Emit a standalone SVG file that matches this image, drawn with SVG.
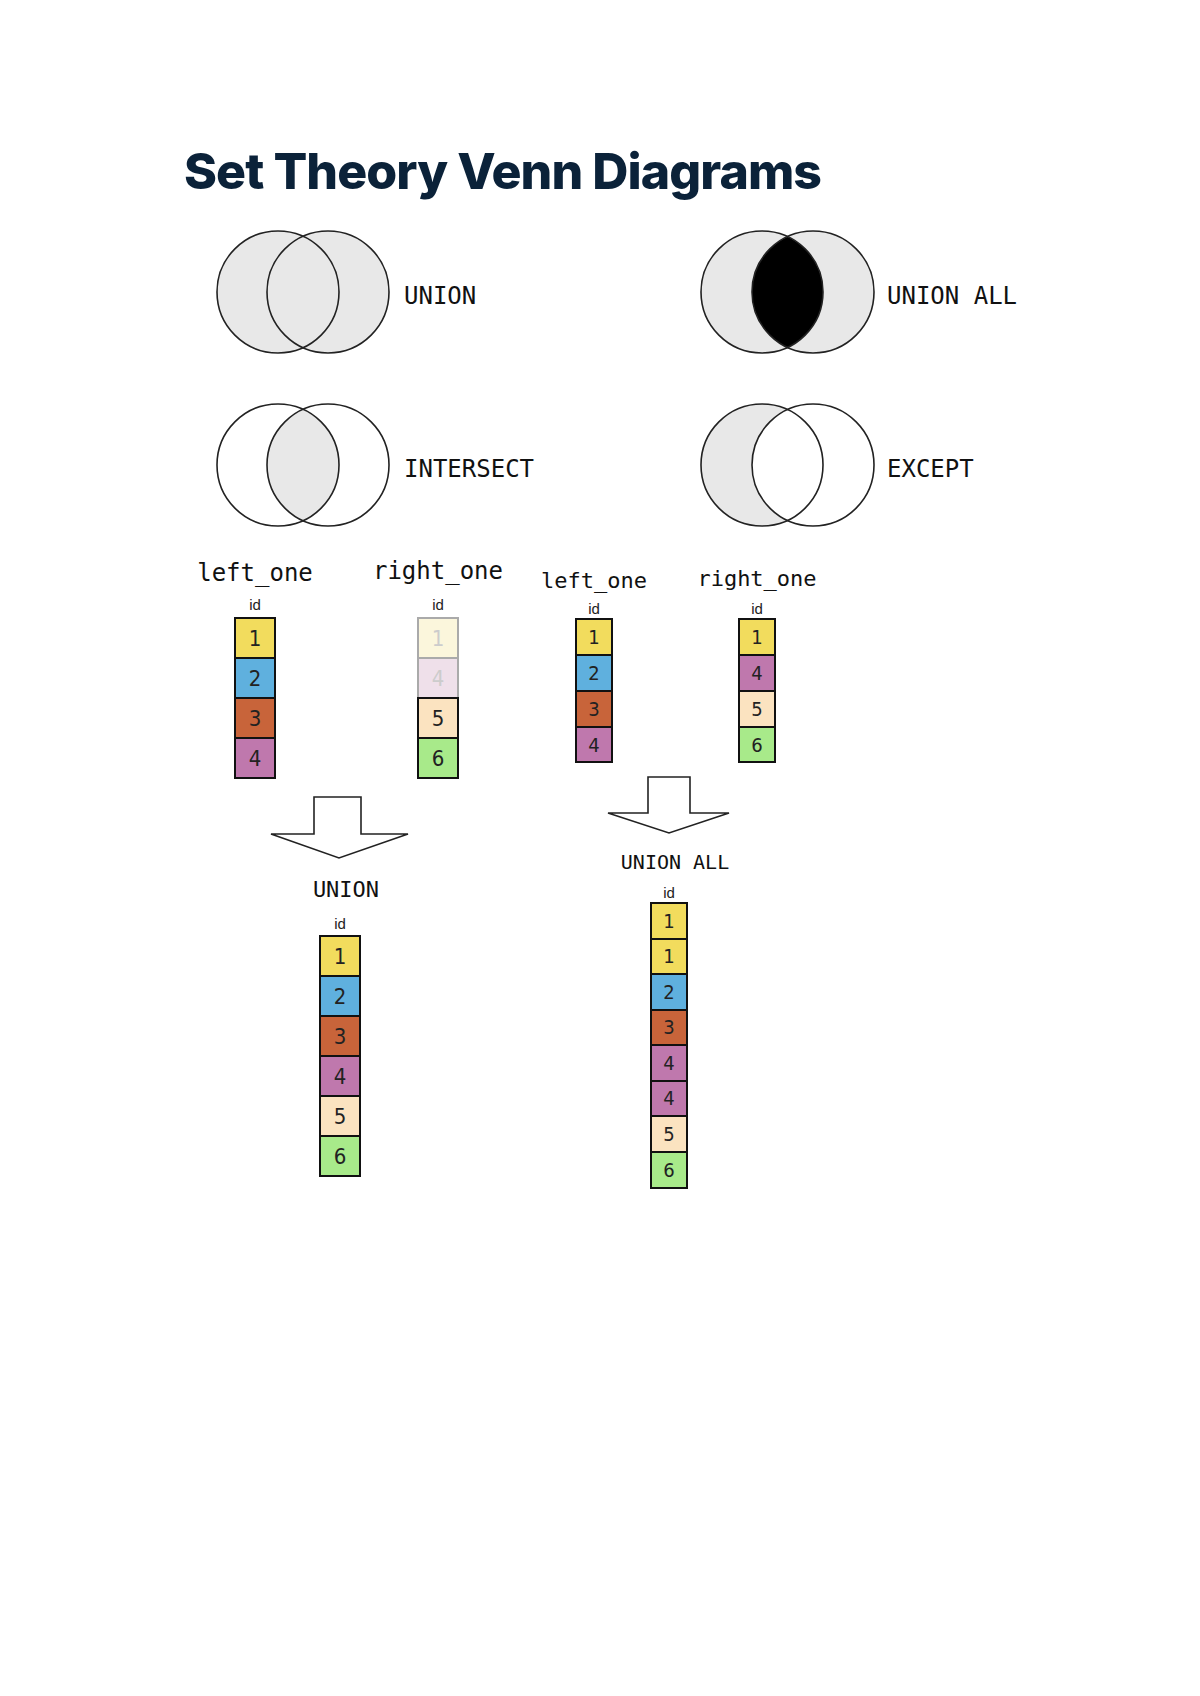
<svg xmlns="http://www.w3.org/2000/svg" width="1200" height="1696" viewBox="0 0 1200 1696">
<style>
.t{font-family:"DejaVu Sans Mono","Liberation Mono",monospace;fill:#111}
.id{font-family:"Liberation Sans",Arial,sans-serif;font-size:15px;fill:#222;text-anchor:middle}
.n{font-family:"DejaVu Sans Condensed","Liberation Sans",sans-serif;fill:#222;text-anchor:middle}
.c{stroke:#111;stroke-width:2}
.v{stroke:#222;stroke-width:1.6;fill:none}
.y{fill:#f2dc5d}.b{fill:#5fb0de}.o{fill:#c8643a}.p{fill:#bf78ad}.k{fill:#fbe3c0}.g{fill:#a8ea8a}
.arrow{fill:#fff;stroke:#222;stroke-width:1.6}
</style>
<rect width="1200" height="1696" fill="#fff"/>
<text x="184" y="189" font-family="Inter,'Noto Sans',sans-serif" font-weight="800" font-size="50" fill="#0b2239" textLength="638">Set Theory Venn Diagrams</text>
<defs>
<clipPath id="cl1"><circle cx="278" cy="465" r="61"/></clipPath>
<clipPath id="cl2"><circle cx="762" cy="292" r="61"/></clipPath>
<clipPath id="cl3"><circle cx="813" cy="465" r="61"/></clipPath>
</defs>
<g id="venn-union">
<circle cx="278" cy="292" r="61" fill="#e8e8e8"/><circle cx="328" cy="292" r="61" fill="#e8e8e8"/>
<circle cx="278" cy="292" r="61" class="v"/><circle cx="328" cy="292" r="61" class="v"/>
<text x="404" y="304" class="t" font-size="24">UNION</text>
</g>
<g id="venn-unionall">
<circle cx="762" cy="292" r="61" fill="#e8e8e8"/><circle cx="813" cy="292" r="61" fill="#e8e8e8"/>
<circle cx="813" cy="292" r="61" fill="#000" clip-path="url(#cl2)"/>
<circle cx="762" cy="292" r="61" class="v"/><circle cx="813" cy="292" r="61" class="v"/>
<text x="887" y="304" class="t" font-size="24">UNION ALL</text>
</g>
<g id="venn-intersect">
<circle cx="328" cy="465" r="61" fill="#e8e8e8" clip-path="url(#cl1)"/>
<circle cx="278" cy="465" r="61" class="v"/><circle cx="328" cy="465" r="61" class="v"/>
<text x="404" y="477" class="t" font-size="24">INTERSECT</text>
</g>
<g id="venn-except">
<circle cx="762" cy="465" r="61" fill="#e8e8e8"/>
<circle cx="813" cy="465" r="61" fill="#fff"/>
<circle cx="762" cy="465" r="61" class="v"/><circle cx="813" cy="465" r="61" class="v"/>
<text x="887" y="477" class="t" font-size="24">EXCEPT</text>
</g>
<g id="table-left1">
<text x="255" y="581" class="t" font-size="24" text-anchor="middle">left_one</text>
<text x="255" y="610" class="id">id</text>
<rect x="235" y="618" width="40" height="40" class="y c"/><rect x="235" y="658" width="40" height="40" class="b c"/>
<rect x="235" y="698" width="40" height="40" class="o c"/><rect x="235" y="738" width="40" height="40" class="p c"/>
<g class="n" font-size="22"><text x="255" y="646">1</text><text x="255" y="686">2</text><text x="255" y="726">3</text><text x="255" y="766">4</text></g>
</g>
<g id="table-right1">
<text x="438" y="579" class="t" font-size="24" text-anchor="middle">right_one</text>
<text x="438" y="610" class="id">id</text>
<rect x="418" y="618" width="40" height="40" fill="#fbf6dc" stroke="#aaa" stroke-width="2"/><rect x="418" y="658" width="40" height="40" fill="#efe0ea" stroke="#aaa" stroke-width="2"/>
<rect x="418" y="698" width="40" height="40" class="k c"/><rect x="418" y="738" width="40" height="40" class="g c"/>
<g class="n" font-size="22"><text x="438" y="646" fill="#ccc" style="fill:#ccc">1</text><text x="438" y="686" style="fill:#ccc">4</text><text x="438" y="726">5</text><text x="438" y="766">6</text></g>
</g>
<g id="table-left2">
<text x="594" y="588" class="t" font-size="22" text-anchor="middle">left_one</text>
<text x="594" y="614" class="id">id</text>
<rect x="576" y="619" width="36" height="36" class="y c"/><rect x="576" y="655" width="36" height="36" class="b c"/>
<rect x="576" y="691" width="36" height="36" class="o c"/><rect x="576" y="727" width="36" height="35" class="p c"/>
<g class="n" font-size="20"><text x="594" y="644">1</text><text x="594" y="680">2</text><text x="594" y="716">3</text><text x="594" y="752">4</text></g>
</g>
<g id="table-right2">
<text x="757" y="586" class="t" font-size="22" text-anchor="middle">right_one</text>
<text x="757" y="614" class="id">id</text>
<rect x="739" y="619" width="36" height="36" class="y c"/><rect x="739" y="655" width="36" height="36" class="p c"/>
<rect x="739" y="691" width="36" height="36" class="k c"/><rect x="739" y="727" width="36" height="35" class="g c"/>
<g class="n" font-size="20"><text x="757" y="644">1</text><text x="757" y="680">4</text><text x="757" y="716">5</text><text x="757" y="752">6</text></g>
</g>
<g id="connectors">
<path class="arrow" d="M314 797 H361 V834 H408 L339 858 L271 834 H314 Z"/>
<path class="arrow" d="M648 777 H690 V813 H729 L669 833 L608 813 H648 Z"/>
</g>
<g id="table-union">
<text x="346" y="897" class="t" font-size="22" text-anchor="middle">UNION</text>
<text x="340" y="929" class="id">id</text>
<rect x="320" y="936" width="40" height="40" class="y c"/><rect x="320" y="976" width="40" height="40" class="b c"/>
<rect x="320" y="1016" width="40" height="40" class="o c"/><rect x="320" y="1056" width="40" height="40" class="p c"/>
<rect x="320" y="1096" width="40" height="40" class="k c"/><rect x="320" y="1136" width="40" height="40" class="g c"/>
<g class="n" font-size="22"><text x="340" y="964">1</text><text x="340" y="1004">2</text><text x="340" y="1044">3</text><text x="340" y="1084">4</text><text x="340" y="1124">5</text><text x="340" y="1164">6</text></g>
</g>
<g id="table-unionall">
<text x="675" y="869" class="t" font-size="20" text-anchor="middle">UNION ALL</text>
<text x="669" y="898" class="id">id</text>
<rect x="651" y="903" width="36" height="36" class="y c"/><rect x="651" y="939" width="36" height="35" class="y c"/>
<rect x="651" y="974" width="36" height="36" class="b c"/><rect x="651" y="1010" width="36" height="35" class="o c"/>
<rect x="651" y="1045" width="36" height="36" class="p c"/><rect x="651" y="1081" width="36" height="35" class="p c"/>
<rect x="651" y="1116" width="36" height="36" class="k c"/><rect x="651" y="1152" width="36" height="36" class="g c"/>
<g class="n" font-size="20"><text x="669" y="928">1</text><text x="669" y="963">1</text><text x="669" y="999">2</text><text x="669" y="1034">3</text><text x="669" y="1070">4</text><text x="669" y="1105">4</text><text x="669" y="1141">5</text><text x="669" y="1177">6</text></g>
</g>
</svg>
